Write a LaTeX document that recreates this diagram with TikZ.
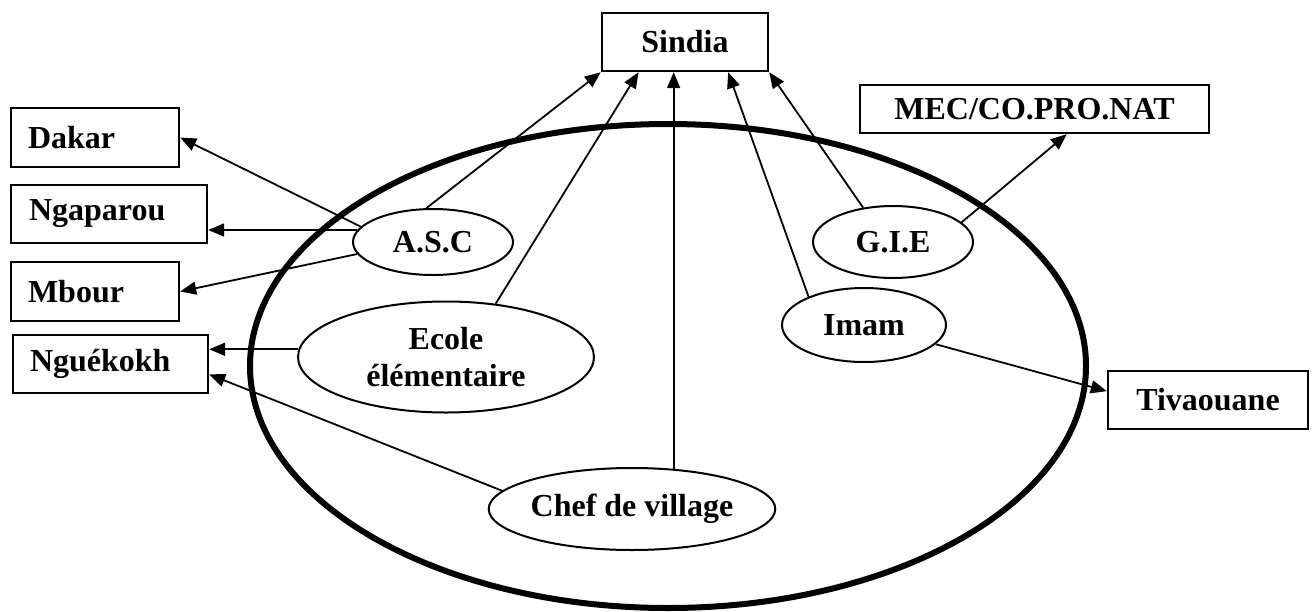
\documentclass[tikz,border=0pt]{standalone}
\usepackage{fontspec}
\setmainfont{Liberation Serif}
\usetikzlibrary{arrows.meta,shapes.geometric}
\begin{document}
\begin{tikzpicture}[x=1pt,y=-1pt,
  every node/.style={font=\fontsize{32}{37}\selectfont\bfseries},
  box/.style={draw,line width=2.4pt,inner ysep=0pt,anchor=center},
  lbox/.style={box,inner xsep=17pt,align=left},
  cbox/.style={box,inner xsep=0pt,align=center},
  oval/.style={draw,ellipse,line width=2pt,inner sep=0pt,align=center},
  arr/.style={line width=1.8pt,-{Triangle[length=16pt,width=13pt]}},
  ]
\useasboundingbox (0,0) rectangle (1315,611);
\draw[line width=6pt] (668,366) ellipse [x radius=418, y radius=242];

% boxes
\node[lbox,text width=134pt,minimum height=59pt] (dakar) at (95,137.5) {Dakar};
\node[lbox,text width=160pt,minimum height=58pt,inner xsep=18pt] (ngap) at (109,214) {Ngaparou};
\node[lbox,text width=134pt,minimum height=59pt] (mbour) at (95,291.5) {Mbour};
\node[lbox,text width=161pt,minimum height=58pt] (ngue) at (110.5,364) {Nguékokh};
\node[cbox,minimum width=166pt,minimum height=58pt] (sindia) at (685,42) {Sindia};
\node[cbox,minimum width=349pt,minimum height=48pt] (mec) at (1034.5,109) {MEC/CO.PRO.NAT};
\node[cbox,minimum width=200pt,minimum height=58pt] (tiv) at (1208,400) {Tivaouane};

% ovals
\node[oval,minimum width=160pt,minimum height=66pt] (asc) at (433,242) {A.S.C};
\node[oval,minimum width=160pt,minimum height=72pt] (gie) at (893,242) {G.I.E};
\node[oval,minimum width=164pt,minimum height=74pt] (imam) at (864,325) {Imam};
\node[oval,minimum width=296pt,minimum height=111pt] (ecole) at (446,357) {Ecole\\élémentaire};
\node[oval,minimum width=286pt,minimum height=82pt] (chef) at (632,509) {Chef de village};

% connectors
\draw[arr] (asc.101) -- (sindia.south west);
\draw[arr] (ecole.47) -- (sindia.-147);
\draw[arr] (chef.44) -- (chef.44 |- sindia.south);
\draw[arr] (imam.153) -- (sindia.-35);
\draw[arr] (gie.131) -- (sindia.south east);
\draw[arr] (gie.16) -- (mec.-38);
\draw[arr] (asc.168) -- (dakar.east);
\draw[arr] (asc.171) -- (asc.171 -| ngap.east);
\draw[arr] (asc.189) -- (mbour.east);
\draw[arr] (ecole.177) -- (ecole.177 -| ngue.east);
\draw[arr] (chef.172) -- (ngue.-6);
\draw[arr] (imam.-15) -- (tiv.175);
\end{tikzpicture}
\end{document}
